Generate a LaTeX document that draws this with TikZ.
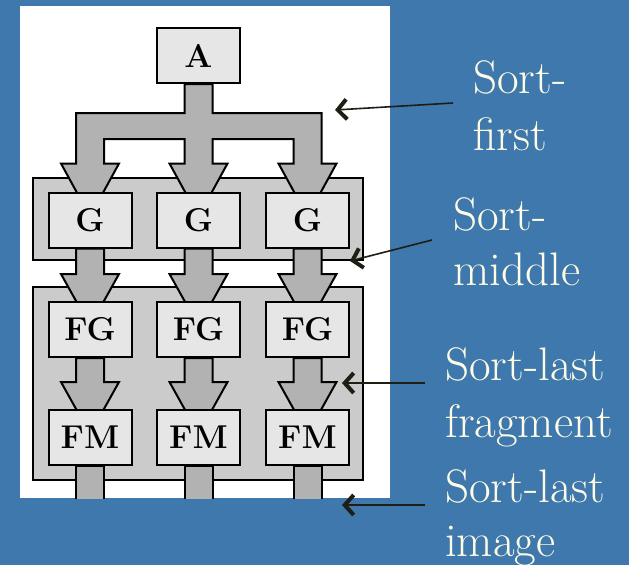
\documentclass[tikz,border=0pt]{standalone}
\usepackage{fontspec}
\usetikzlibrary{calc,arrows.meta}
\definecolor{bgblue}{HTML}{3E78AD}
\definecolor{cream}{HTML}{FFFCE6}
\definecolor{boxgray}{HTML}{E6E6E6}
\definecolor{grpgray}{HTML}{CBCBCB}
\definecolor{fatgray}{HTML}{B2B2B2}
\definecolor{annot}{HTML}{1E1E14}
\tikzset{
  box/.style={draw=black, line width=2pt, fill=boxgray, minimum width=83pt, minimum height=55pt, inner sep=0pt, font=\rmfamily\fontsize{33}{36}\selectfont\bfseries},
  group/.style={draw=black, line width=2pt, fill=grpgray},
  fat/.style={draw=black, line width=2pt, fill=fatgray, line join=miter},
  lab/.style={text=cream, anchor=base west, inner sep=0pt, font=\rmfamily\fontsize{47}{56}\selectfont},
  note/.style={draw=annot, line width=1.6pt, -{Straight Barb[length=9pt,width=20pt,line width=4pt]}}
}
\newcommand\fatarr[2]{%
  \path[fat] let \p1=(#1.south), \p2=(#2.north) in
    (\x1-14pt,\y1) -- (\x1-14pt,\y2+27pt) -- (\x1-29pt,\y2+27pt) -- (\x1,\y2-25pt)
    -- (\x1+29pt,\y2+27pt) -- (\x1+14pt,\y2+27pt) -- (\x1+14pt,\y1) -- cycle;}
\begin{document}
\begin{tikzpicture}[x=1pt,y=-1pt]
\useasboundingbox (0,0) rectangle (629,565);
\fill[bgblue] (0,0) rectangle (629,565);
\fill[white] (20,6) rectangle (390,498);
% groups
\draw[group] (33,178) rectangle (363,260);
\draw[group] (33,287) rectangle (363,480);
% invisible nodes to get anchors (boxes drawn last)
\node[box, draw=none, fill=none] (A) at (198.5,55.5) {};
\foreach \i/\x in {1/90,2/198.5,3/307.5}{
  \node[box, draw=none, fill=none] (g\i) at (\x,220) {};
  \node[box, draw=none, fill=none] (fg\i) at (\x,329.5) {};
  \node[box, draw=none, fill=none] (fm\i) at (\x,437.5) {};
}
% sort-first tree
\path[fat] let \p0=(A.south), \p1=(g1.north), \p2=(g2.north), \p3=(g3.north) in
 (\x0-14pt,\y0) -- (\x0-14pt,\y0-29pt) -- (\x1-14pt,\y0-29pt) -- (\x1-14pt,\y1+28pt)
 -- (\x1-29pt,\y1+28pt) -- (\x1,\y1-25pt) -- (\x1+29pt,\y1+28pt) -- (\x1+14pt,\y1+28pt)
 -- (\x1+14pt,\y0-55pt) -- (\x2-14pt,\y0-55pt) -- (\x2-14pt,\y2+28pt) -- (\x2-29pt,\y2+28pt)
 -- (\x2,\y2-25pt) -- (\x2+29pt,\y2+28pt) -- (\x2+14pt,\y2+28pt) -- (\x2+14pt,\y0-55pt)
 -- (\x3-14pt,\y0-55pt) -- (\x3-14pt,\y3+28pt) -- (\x3-29pt,\y3+28pt) -- (\x3,\y3-25pt)
 -- (\x3+29pt,\y3+28pt) -- (\x3+14pt,\y3+28pt) -- (\x3+14pt,\y0-29pt) -- (\x0+14pt,\y0-29pt)
 -- (\x0+14pt,\y0) -- cycle;
% vertical fat arrows
\foreach \i in {1,2,3}{
  \fatarr{g\i}{fg\i}
  \fatarr{fg\i}{fm\i}
}
% stems below FM, clipped at panel bottom
\begin{scope}
  \clip (20,6) rectangle (390,498);
  \foreach \i in {1,2,3}{
    \path[fat] ($(fm\i.south)+(-14,0)$) rectangle ($(fm\i.south)+(14,60)$);
  }
\end{scope}
% boxes
\node[box] at (A) {A};
\foreach \i in {1,2,3}{
  \node[box] at (g\i) {G};
  \node[box] at (fg\i) {FG};
  \node[box] at (fm\i) {FM};
}
% labels
\node[lab] (sf1) at (473,93) {Sort-};
\node[lab] (sf2) at (473,150) {first};
\node[lab] (sm1) at (453,230) {Sort-};
\node[lab] (sm2) at (453,285) {middle};
\node[lab] (sl1) at (445,380) {Sort-last};
\node[lab] (sl2) at (445,437) {fragment};
\node[lab] (si1) at (445,502) {Sort-last};
\node[lab] (si2) at (445,556) {image};
% annotation arrows
\coordinate (a1s) at (453,103); \coordinate (a1e) at (335,110);
\coordinate (a2s) at (432,240); \coordinate (a2e) at (350,261);
\coordinate (a3s) at (425,383); \coordinate (a3e) at (342,383);
\coordinate (a4s) at (425,505); \coordinate (a4e) at (342,505);
\draw[note] (a1s) -- (a1e);
\draw[note] (a2s) -- (a2e);
\draw[note] (a3s) -- (a3e);
\draw[note] (a4s) -- (a4e);
\end{tikzpicture}
\end{document}
